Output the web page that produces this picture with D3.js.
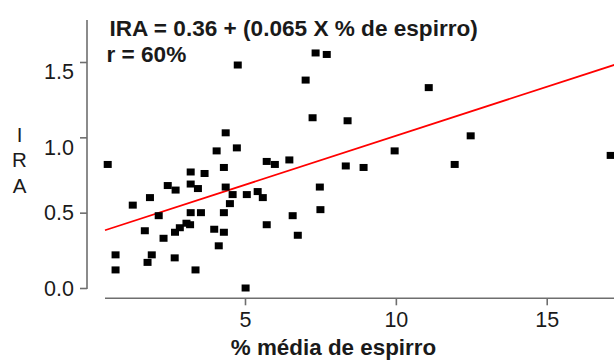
<!DOCTYPE html>
<html><head><meta charset="utf-8">
<script src="https://cdn.jsdelivr.net/npm/d3@7"></script>
<style>
html,body{margin:0;padding:0;background:#fff;}
svg{display:block;font-family:"Liberation Sans",Arial,sans-serif;}
</style></head>
<body>
<svg id="c" width="614" height="360"></svg>
<script>
const espirro = [0.45,0.71,0.71,1.28,1.68,1.85,1.77,1.91,2.14,2.30,2.44,2.70,2.68,2.84,2.67,3.06,3.18,3.20,3.20,3.20,3.44,3.54,3.36,3.66,3.98,4.13,4.30,4.30,4.36,4.59,4.50,4.30,5.06,5.02,5.42,5.59,5.72,6.58,6.75,4.76,4.36,4.06,4.73,5.72,5.99,6.47,7.01,7.24,7.34,7.71,8.40,11.09,9.96,8.34,8.93,11.95,12.48,17.12,7.48,7.50];
const ira = [0.82,0.22,0.12,0.55,0.38,0.60,0.17,0.22,0.48,0.33,0.68,0.65,0.37,0.40,0.20,0.43,0.42,0.69,0.77,0.50,0.66,0.50,0.12,0.76,0.39,0.28,0.50,0.37,0.67,0.62,0.56,0.80,0.62,0.00,0.64,0.60,0.42,0.48,0.35,1.48,1.03,0.91,0.93,0.84,0.82,0.85,1.38,1.13,1.56,1.55,1.11,1.33,0.91,0.81,0.80,0.82,1.01,0.88,0.67,0.52];
const xTicks = [5, 10, 15];
const yTicks = [0, 0.5, 1.0, 1.5];
const intercept = 0.36, slope = 0.065;
const eqText = "IRA = 0.36 + (0.065 X % de espirro)";
const rText = "r = 60%";
const xTitle = "% média de espirro";
const yTitle = ["I", "R", "A"];

const svg = d3.select("#c");
const x = d3.scaleLinear().domain([0.36, 17.23]).range([105, 614]);
const y = d3.scaleLinear().domain([0, 1.5]).range([288, 62]);
const axisColor = "#6e6e6e";
const txtColor = "#1a1a1a";

// Y axis
const gy = svg.append("g").attr("transform", "translate(87,0)")
  .call(d3.axisLeft(y).tickValues(yTicks).tickFormat(d3.format(".1f")).tickSize(7).tickSizeOuter(0).tickPadding(6));
gy.select(".domain").remove();
gy.append("line").attr("x1", 0).attr("x2", 0).attr("y1", 20).attr("y2", y(-0.007))
  .attr("stroke", axisColor).attr("stroke-width", 1.6);
gy.selectAll(".tick line").attr("stroke", axisColor).attr("stroke-width", 1.6);
gy.selectAll(".tick text").attr("fill", txtColor).attr("font-size", 21.5)
  .attr("font-family", "Liberation Sans, Arial, sans-serif")
  .attr("dy", d => d >= 1 ? "0.78em" : "0.34em");

// X axis
const gx = svg.append("g").attr("transform", "translate(0,298.3)")
  .call(d3.axisBottom(x).tickValues(xTicks).tickFormat(d3.format("d")).tickSize(7).tickSizeOuter(0).tickPadding(6));
gx.select(".domain").remove();
gx.append("line").attr("x1", x(0.36)).attr("x2", 614).attr("y1", 0).attr("y2", 0)
  .attr("stroke", axisColor).attr("stroke-width", 1.6);
gx.selectAll(".tick line").attr("stroke", axisColor).attr("stroke-width", 1.6);
gx.selectAll(".tick text").attr("fill", txtColor).attr("font-size", 21.5)
  .attr("font-family", "Liberation Sans, Arial, sans-serif");

// Regression line
const lx = [0.36, 17.4];
svg.append("line")
  .attr("x1", x(lx[0])).attr("y1", y(intercept + slope * lx[0]))
  .attr("x2", x(lx[1])).attr("y2", y(intercept + slope * lx[1]))
  .attr("stroke", "#ff0000").attr("stroke-width", 1.8);

// Points
const pts = espirro.map((v, i) => ({x: v, y: ira[i]}));
svg.append("g").selectAll("rect").data(pts).join("rect")
  .attr("x", d => x(d.x) - 4).attr("y", d => y(d.y) - 3.5)
  .attr("width", 8).attr("height", 7).attr("fill", "#000");

// Texts
svg.append("text").attr("x", 109.5).attr("y", 35.7).attr("font-size", 22.6).attr("font-weight", "bold")
  .attr("fill", txtColor).text(eqText);
svg.append("text").attr("x", 106.5).attr("y", 62.3).attr("font-size", 22.6).attr("font-weight", "bold")
  .attr("fill", txtColor).text(rText);
svg.append("text").attr("x", 333.5).attr("y", 355).attr("text-anchor", "middle").attr("font-size", 22.4)
  .attr("font-weight", "bold").attr("fill", txtColor).text(xTitle);
svg.append("g").selectAll("text").data(yTitle).join("text")
  .attr("x", 19.5).attr("y", (d, i) => [142, 166.7, 193][i])
  .attr("text-anchor", "middle").attr("font-size", 20.5).attr("fill", txtColor).text(d => d);
</script>
</body></html>
